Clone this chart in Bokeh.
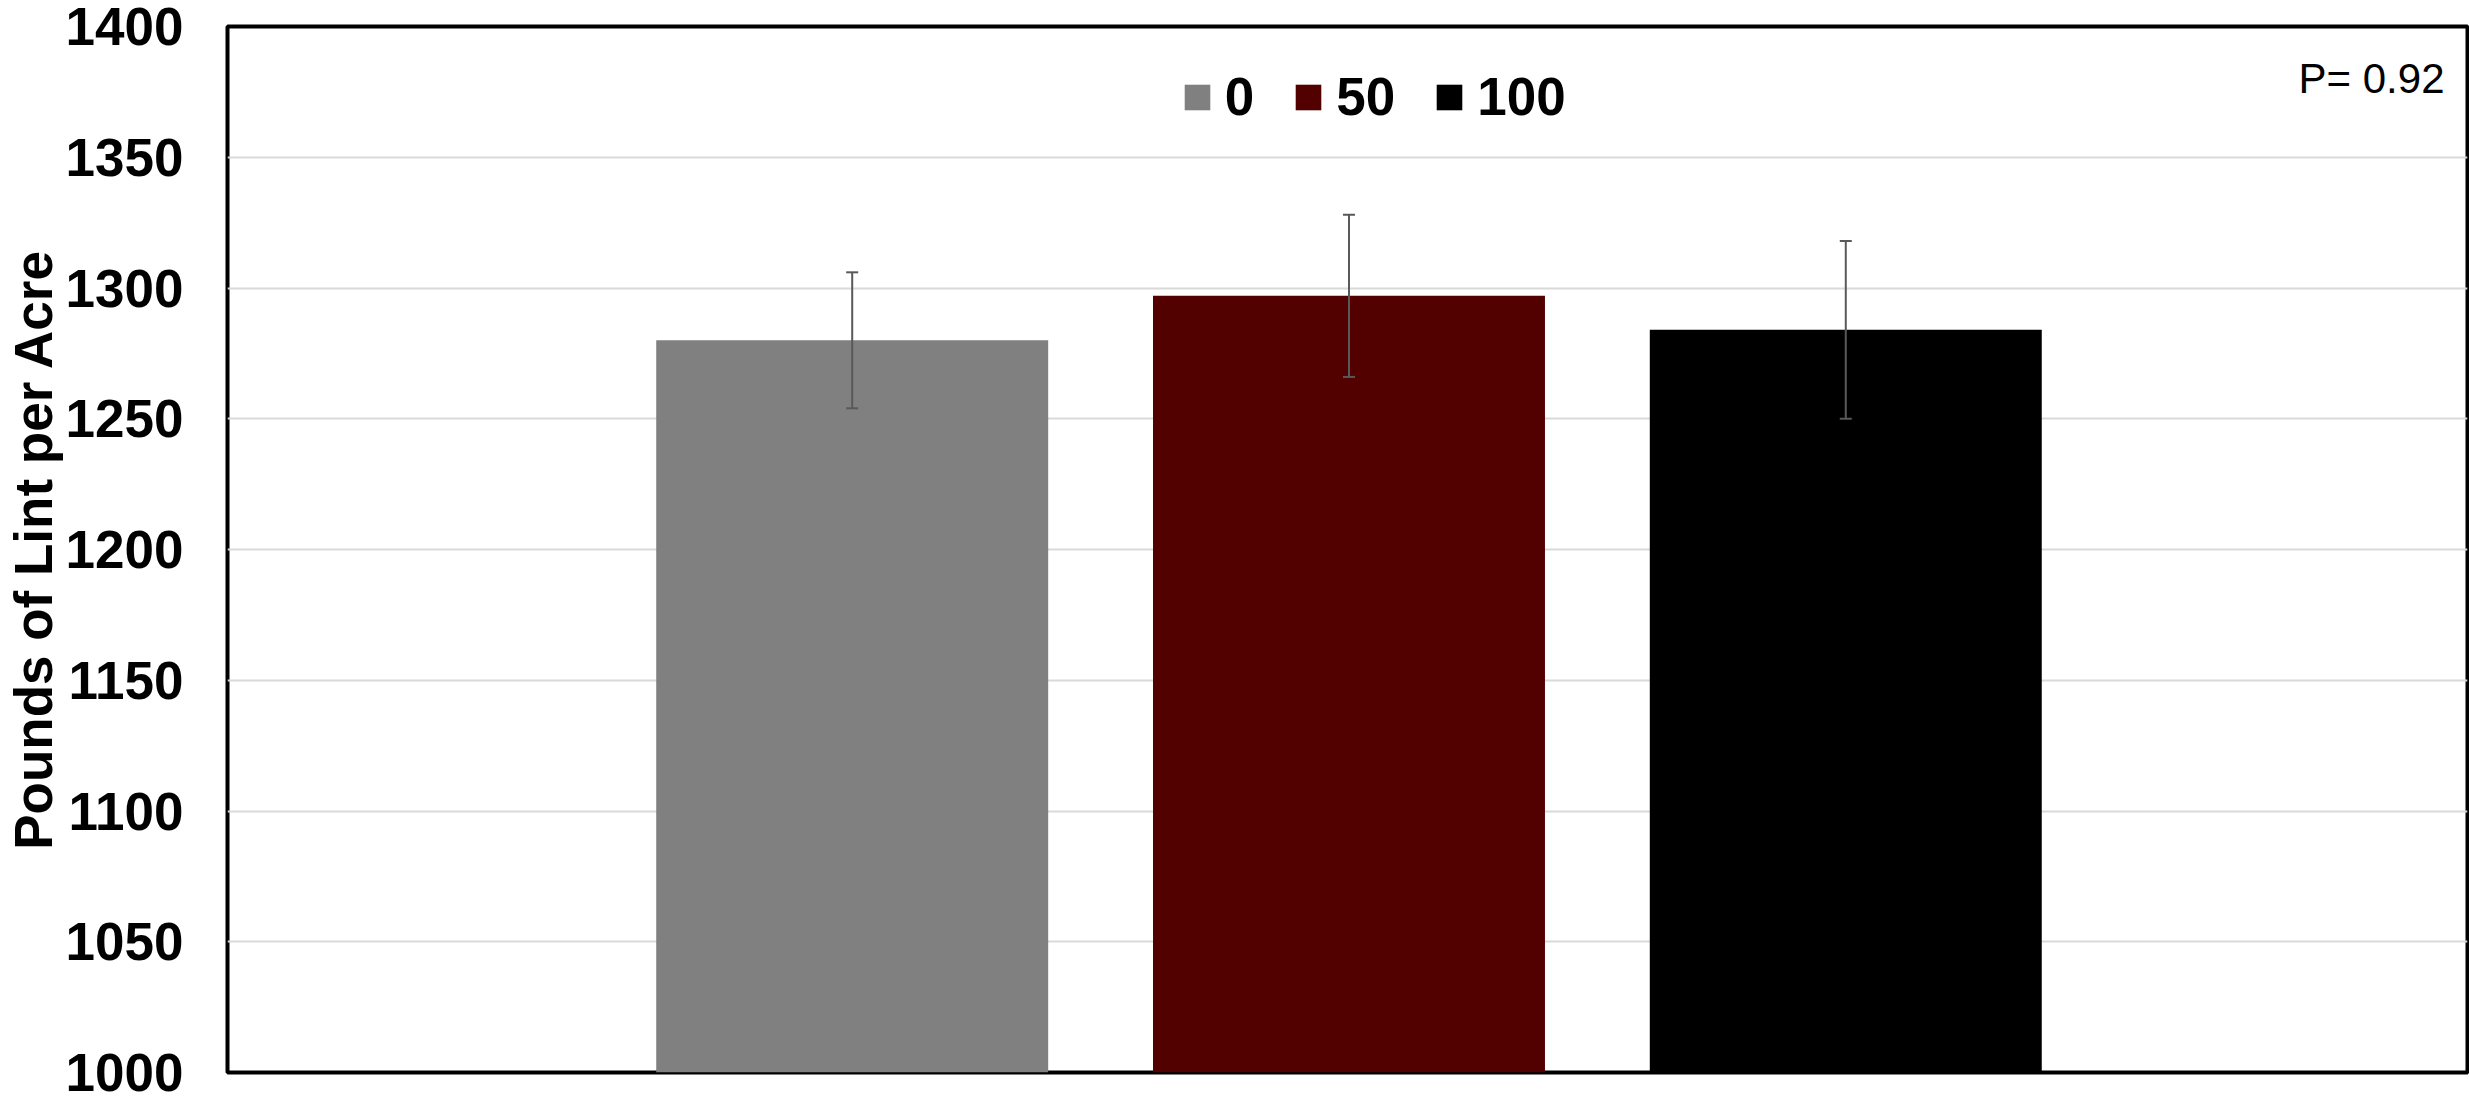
from bokeh.plotting import figure
from bokeh.models import ColumnDataSource, Range1d, FixedTicker, Whisker, TeeHead, Label
from bokeh.embed import file_html
from bokeh.resources import INLINE

# ---- data ----
categories = ["0", "50", "100"]
lint_yield = [1280, 1297, 1284]
std_err = [26, 31, 34]
bar_colors = ["#808080", "#530000", "#000000"]
y_ticks = [1000, 1050, 1100, 1150, 1200, 1250, 1300, 1350, 1400]
p_value_text = "P= 0.92"
y_label_text = "Pounds of Lint per Acre"

positions = [i + 1 for i in range(len(categories))]
upper = [v + e for v, e in zip(lint_yield, std_err)]
lower = [v - e for v, e in zip(lint_yield, std_err)]

src = ColumnDataSource(dict(x=positions, top=lint_yield, upper=upper, lower=lower,
                            color=bar_colors, cat=categories))

FONT = "Liberation Sans"

p = figure(width=2469, height=1097, output_backend="svg", toolbar_location=None,
           x_range=Range1d(-0.2575, 4.2515), y_range=Range1d(1000, 1400),
           min_border_left=226, min_border_right=2, min_border_top=26, min_border_bottom=25)
p.background_fill_color = "white"
p.border_fill_color = "white"
p.outline_line_color = "black"
p.outline_line_width = 4

p.xaxis.visible = False
p.xgrid.visible = False

p.yaxis.ticker = FixedTicker(ticks=y_ticks)
p.yaxis.axis_line_color = None
p.yaxis.major_tick_line_color = None
p.yaxis.minor_tick_line_color = None
p.yaxis.major_tick_out = 0
p.yaxis.major_tick_in = 0
p.yaxis.major_label_standoff = 44
p.yaxis.major_label_text_font = FONT
p.yaxis.major_label_text_font_size = "53px"
p.yaxis.major_label_text_font_style = "bold"
p.yaxis.major_label_text_color = "black"
p.yaxis.axis_label = y_label_text
p.yaxis.axis_label_standoff = 0
p.yaxis.axis_label_text_font = FONT
p.yaxis.axis_label_text_font_size = "53px"
p.yaxis.axis_label_text_font_style = "bold"
p.yaxis.axis_label_text_color = "black"

p.ygrid.grid_line_color = "#d9d9d9"
p.ygrid.grid_line_width = 2

p.vbar(x="x", top="top", bottom=1000, width=0.789, fill_color="color",
       line_color=None, source=src, legend_field="cat")

w = Whisker(base="x", upper="upper", lower="lower", source=src,
            line_color="#595959", line_width=2,
            upper_head=TeeHead(size=12, line_color="#595959", line_width=2),
            lower_head=TeeHead(size=12, line_color="#595959", line_width=2))
w.level = "overlay"
p.add_layout(w)

lg = p.legend[0]
lg.location = (953.75, 945)
lg.orientation = "horizontal"
lg.label_text_font = FONT
lg.label_text_font_size = "53px"
lg.label_text_font_style = "bold"
lg.label_text_color = "black"
lg.glyph_width = 32
lg.glyph_height = 32
lg.label_standoff = 12
lg.spacing = 38
lg.padding = 0
lg.margin = 0
lg.border_line_color = None
lg.background_fill_alpha = 0

p.add_layout(Label(x=2217, y=994, x_units="screen", y_units="screen", text=p_value_text,
                   text_align="right", text_baseline="middle", text_font=FONT,
                   text_font_size="42px", text_color="black"))

open("out.html", "w").write(file_html(p, INLINE))
